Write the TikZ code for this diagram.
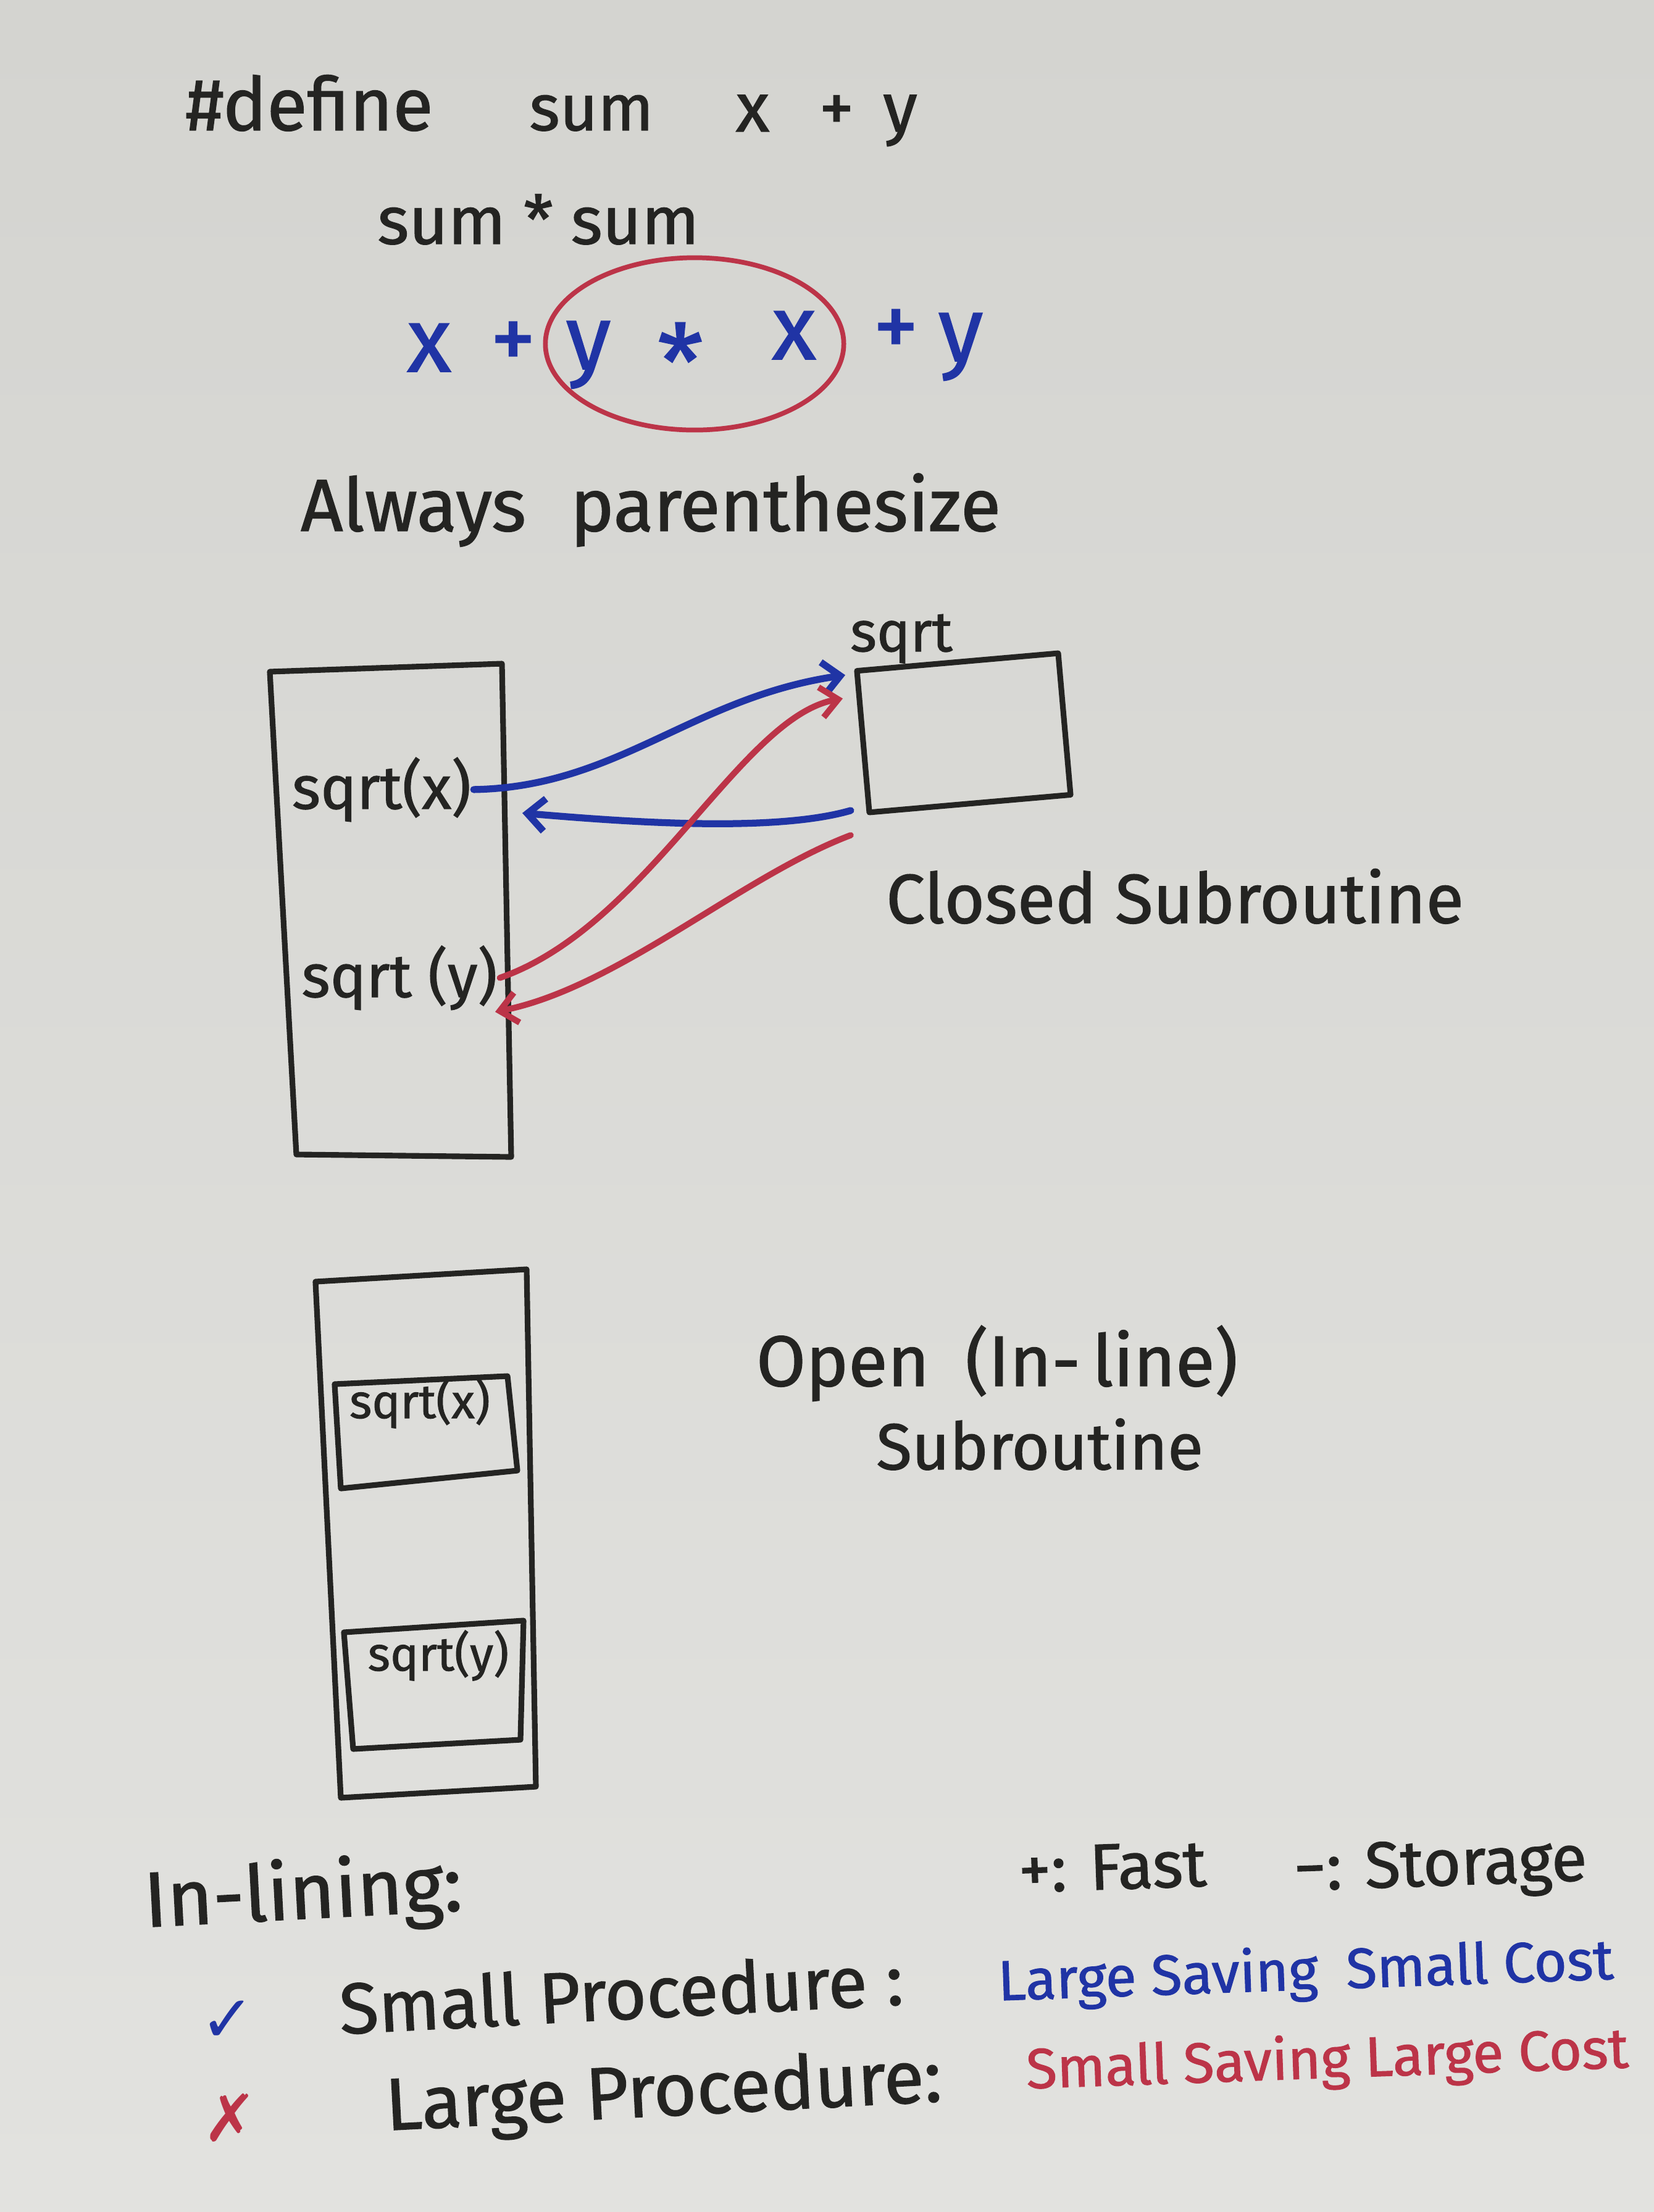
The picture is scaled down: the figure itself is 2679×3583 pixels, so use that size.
\documentclass[tikz,border=0pt]{standalone}
\usepackage{fontspec}
\setmainfont{Fira Sans}[FakeBold=1.2]
\newfontfamily\symfont{DejaVu Sans}
\usetikzlibrary{arrows.meta,shapes.geometric,calc}
\definecolor{papertop}{RGB}{212,212,208}
\definecolor{paperbot}{RGB}{226,226,223}
\definecolor{inkblack}{RGB}{36,36,34}
\definecolor{inkblue}{RGB}{32,52,165}
\definecolor{inkred}{RGB}{188,52,72}
\newcommand{\fsz}[1]{\fontsize{#1pt}{#1pt}\selectfont}
\begin{document}
\begin{tikzpicture}[x=0.01cm,y=-0.01cm,
  lbl/.style={inner sep=1pt, text=inkblack},
  bluelbl/.style={inner sep=1pt, text=inkblue},
  redlbl/.style={inner sep=1pt, text=inkred},
  box/.style={draw=inkblack, line width=2.6pt, line join=round},
  bluearrow/.style={draw=inkblue, line width=3.2pt, line cap=round, -{Straight Barb[length=8pt,width=15pt]}},
  redarrow/.style={draw=inkred, line width=2.8pt, line cap=round, -{Straight Barb[length=8pt,width=14pt]}}]
\shade[top color=papertop, bottom color=paperbot] (0,0) rectangle (2679,3583);
\useasboundingbox (0,0) rectangle (2679,3583);

% ---- macro definition
\node[lbl, anchor=base, font=\fsz{34}] (defkw) at (501,211) {\#define};
\node[lbl, anchor=base, font=\fsz{30}] (defsum) at (958,211) {sum};
\node[lbl, anchor=base, font=\fsz{32}] (defx) at (1219,213) {x};
\node[lbl, anchor=base, font=\fsz{32}] (defplus) at (1355,213) {+};
\node[lbl, anchor=base, font=\fsz{32}] (defy) at (1458,213) {y};

\node[lbl, anchor=base, font=\fsz{31}] (usage) at (872,395) {sum * sum};

% ---- expansion
\node[bluelbl, anchor=base, font=\fsz{42}] (ex1) at (695,602) {x};
\node[bluelbl, anchor=base, font=\fsz{42}] (ep1) at (831,598) {+};
\node[bluelbl, anchor=base, font=\fsz{42}] (ey1) at (953,598) {y};
\node[bluelbl, anchor=center, font=\fsz{48}] (estar) at (1102,585) {*};
\node[bluelbl, anchor=base, font=\fsz{42}] (ex2) at (1286,582) {x};
\node[bluelbl, anchor=base, font=\fsz{42}] (ep2) at (1451,578) {+};
\node[bluelbl, anchor=base, font=\fsz{42}] (ey2) at (1556,585) {y};
\node[draw=inkred, line width=2.2pt, ellipse, minimum width=4.83cm, minimum height=2.79cm, inner sep=0pt] (paren) at (1125,557) {};

\node[lbl, anchor=base, font=\fsz{34}] (always) at (1054,860) {Always\hspace{0.6em}parenthesize};

% ---- closed subroutine
\draw[box] (437,1088) -- (813,1075) -- (828,1874) -- (480,1870) -- cycle;
\node[lbl, anchor=base, font=\fsz{28}] (sqrtx) at (618,1310) {sqrt(x)};
\node[lbl, anchor=base, font=\fsz{28}] (sqrty) at (647,1615) {sqrt (y)};
\node[box, rotate=5, minimum width=3.27cm, minimum height=2.3cm, inner sep=0pt] (sqrtbox) at (1561,1187) {};
\node[lbl, anchor=base, font=\fsz{26}] (sqrtlbl) at (1460,1055) {sqrt};
\node[lbl, anchor=base, font=\fsz{32}] (closed) at (1903,1495) {Closed Subroutine};

\coordinate (xret) at (846,1317);
\coordinate (yret) at (802,1639);
\draw[bluearrow] (sqrtx.east) .. controls (1000,1275) and (1120,1130) .. ($(sqrtbox.north west)+(-14,11)$);
\draw[bluearrow] ($(sqrtbox.south west)+(-26,-8)$) .. controls (1250,1350) and (1000,1330) .. (xret);
\draw[redarrow] (sqrty.east) .. controls (1050,1500) and (1200,1160) .. ($(sqrtbox.north west)+(-18,49)$);
\draw[redarrow] ($(sqrtbox.south west)+(-26,32)$) .. controls (1200,1420) and (1000,1600) .. (yret);

% ---- open subroutine
\draw[box] (511,2076) -- (853,2056) -- (868,2894) -- (552,2912) -- cycle;
\draw[box] (542,2242) -- (822,2229) -- (838,2382) -- (552,2411) -- cycle;
\draw[box] (557,2644) -- (848,2625) -- (843,2818) -- (572,2833) -- cycle;
\node[lbl, anchor=base, font=\fsz{22}] (inx) at (680,2297) {sqrt(x)};
\node[lbl, anchor=base, font=\fsz{22}] (iny) at (710,2706) {sqrt(y)};
\node[lbl, anchor=base, font=\fsz{33}] (open) at (1615,2245) {Open\hspace{0.5em}(In-\,line)};
\node[lbl, anchor=base, font=\fsz{30}] (subr) at (1684,2380) {Subroutine};

% ---- in-lining
\node[lbl, anchor=base, rotate=3, font=\fsz{36}] (inlining) at (493,3108) {In-lining:};
\node[lbl, anchor=base, rotate=2, font=\fsz{30}] (fast) at (1803,3060) {+: Fast};
\node[lbl, anchor=base, rotate=2, font=\fsz{30}] (storage) at (2334,3054) {−: Storage};
\node[bluelbl, font=\symfont\fsz{30}] (check) at (369,3274) {✓};
\node[lbl, inner sep=0pt, rotate=3, font=\fsz{33}] (smallp) at (1006,3228) {Small Procedure :};
\node[bluelbl, rotate=2, font=\fsz{26}] (smallr) at (2115,3197) {Large Saving\hspace{0.5em}Small Cost};
\node[redlbl, font=\symfont\fsz{30}] (cross) at (373,3430) {✗};
\node[lbl, inner sep=0pt, rotate=3, font=\fsz{34}] (largep) at (1075,3395) {Large Procedure:};
\node[redlbl, rotate=2, font=\fsz{26}] (larger) at (2150,3340) {Small Saving Large Cost};
\end{tikzpicture}
\end{document}
